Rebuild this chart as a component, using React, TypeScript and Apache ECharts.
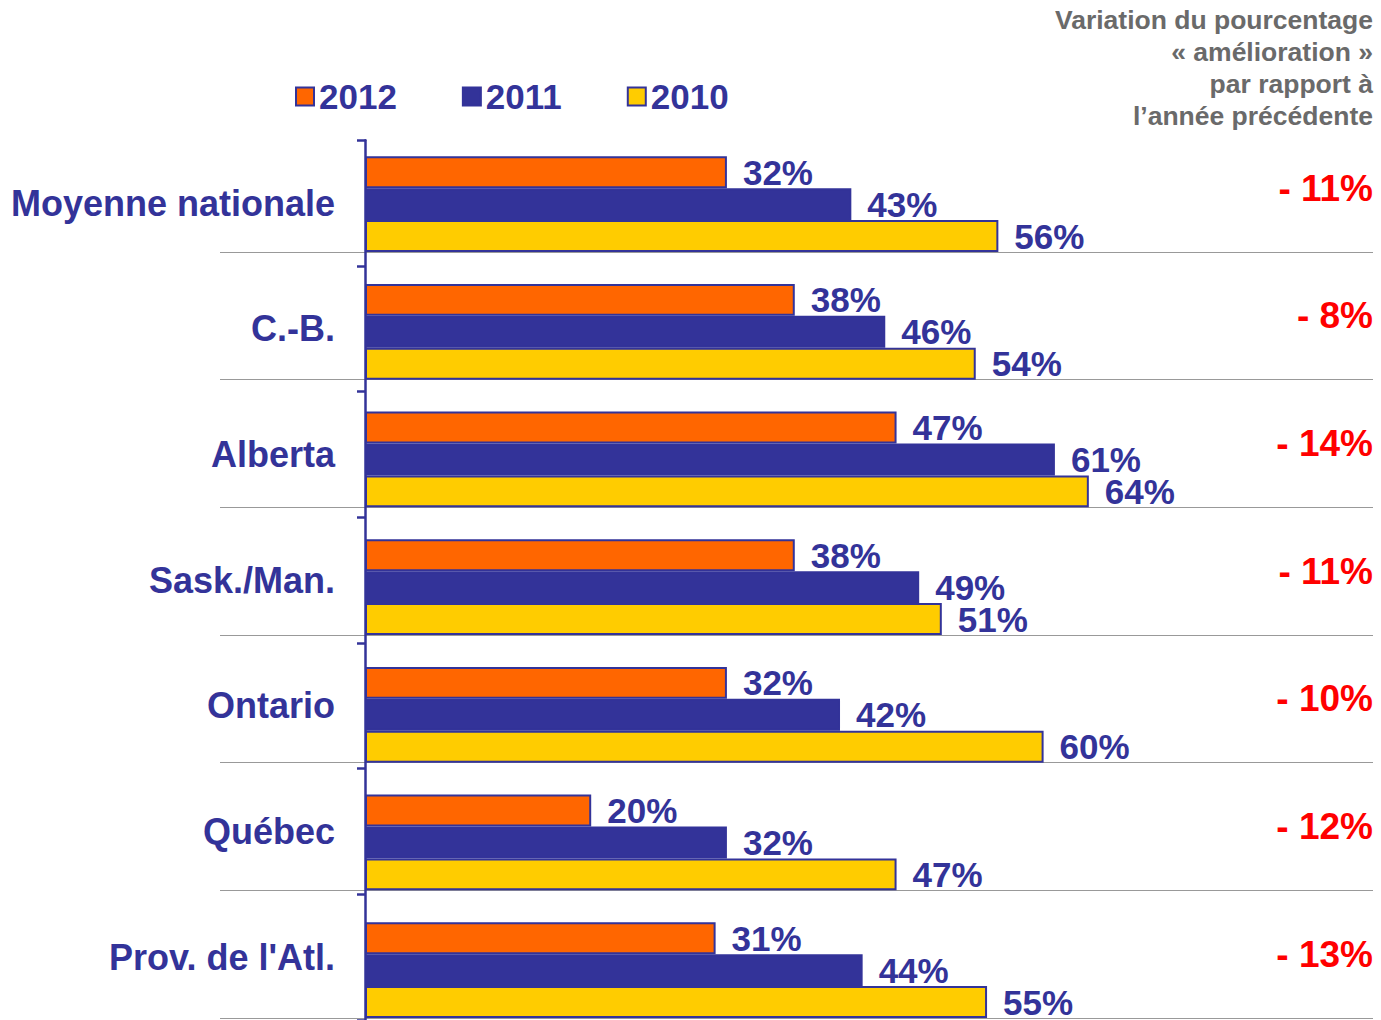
import { useEffect, useRef } from 'react';
import * as echarts from 'echarts';

const regions = ['Moyenne nationale', 'C.-B.', 'Alberta', 'Sask./Man.', 'Ontario', 'Québec', "Prov. de l'Atl."];
const values2012 = [32, 38, 47, 38, 32, 20, 31];
const values2011 = [43, 46, 61, 49, 42, 32, 44];
const values2010 = [56, 54, 64, 51, 60, 47, 55];
const variations = ['- 11%', '- 8%', '- 14%', '- 11%', '- 10%', '- 12%', '- 13%'];
const seriesNames = ['2012', '2011', '2010'];
const headerLines = ['Variation du pourcentage', '« amélioration »', 'par rapport à', 'l’année précédente'];

const FONT = 'Liberation Sans, Arial, Helvetica, sans-serif';
const NAVY = '#333399';
const ORANGE = '#FF6600';
const YELLOW = '#FFCC00';

// layout constants (pixels)
const W = 1381;
const H = 1020;
const AXIS_X = 365;
const GRID_LEFT = 220;
const GRID_RIGHT_X = 1373;
const PX_PER_PCT = 11.31;
const GRID_TOP = 124.3;
const GRID_BOTTOM_Y = 1018;
const GRID_H = GRID_BOTTOM_Y - GRID_TOP;
const HALF_SLOT = GRID_H / regions.length / 4 / 2;

export default function App() {
  const ref = useRef<HTMLDivElement>(null);

  useEffect(() => {
    if (!ref.current) return;
    const chart = echarts.init(ref.current, undefined, { renderer: 'svg' });

    const labelStyle = {
      show: true,
      position: 'right',
      distance: 16,
      formatter: '{c}%',
      color: NAVY,
      fontFamily: FONT,
      fontWeight: 'bold',
      fontSize: 35,
    };

    const colors = [ORANGE, NAVY, YELLOW];
    const vals = [values2012, values2011, values2010];

    chart.setOption({
      animation: false,
      backgroundColor: '#ffffff',
      graphic: headerLines.map((line, i) => ({
        type: 'text',
        right: W - GRID_RIGHT_X,
        top: 6 + i * 32,
        style: {
          text: line,
          fill: '#6a6a6a',
          fontFamily: FONT,
          fontWeight: 'bold',
          fontSize: 26.5,
        },
      })),
      legend: {
        data: seriesNames,
        left: 295,
        top: 79,
        padding: 0,
        itemWidth: 18,
        itemHeight: 18,
        itemGap: 65,
        icon: 'rect',
        selectedMode: false,
        textStyle: { color: NAVY, fontFamily: FONT, fontWeight: 'bold', fontSize: 35 },
      },
      grid: [
        { left: GRID_LEFT, top: GRID_TOP, width: GRID_RIGHT_X - GRID_LEFT, height: GRID_H },
        { left: AXIS_X, top: GRID_TOP + HALF_SLOT, width: 100, height: GRID_H },
      ],
      xAxis: [
        {
          type: 'value',
          gridIndex: 0,
          min: -(AXIS_X - GRID_LEFT) / PX_PER_PCT,
          max: (GRID_RIGHT_X - AXIS_X) / PX_PER_PCT,
          show: false,
          splitLine: { show: false },
        },
        { type: 'value', gridIndex: 1, min: 0, max: 1, show: false },
      ],
      yAxis: [
        {
          type: 'category',
          gridIndex: 0,
          data: regions,
          inverse: true,
          axisLine: { show: false },
          axisTick: { show: false },
          axisLabel: { show: false },
          splitLine: { show: true, showMinLine: false, lineStyle: { color: '#999999', width: 1 } },
        },
        {
          type: 'category',
          gridIndex: 0,
          position: 'right',
          data: regions,
          inverse: true,
          axisLine: { show: false },
          axisTick: { show: false },
          splitLine: { show: false },
          axisLabel: {
            inside: true,
            margin: 0,
            padding: [12, 0, 0, 0],
            formatter: (_v: string, i: number) => variations[i],
            color: '#FF0000',
            fontFamily: FONT,
            fontWeight: 'bold',
            fontSize: 37,
          },
        },
        {
          type: 'category',
          gridIndex: 1,
          data: regions,
          inverse: true,
          axisLine: { show: true, lineStyle: { color: NAVY, width: 2.5 } },
          axisTick: { show: true, length: 8, lineStyle: { color: NAVY, width: 2.5 } },
          splitLine: { show: false },
          axisLabel: {
            margin: 30,
            color: NAVY,
            fontFamily: FONT,
            fontWeight: 'bold',
            fontSize: 36,
          },
        },
      ],
      series: [
        {
          name: 'gap',
          type: 'bar',
          xAxisIndex: 0,
          yAxisIndex: 0,
          data: [],
          barGap: '0%',
          barCategoryGap: '0%',
        },
        ...seriesNames.map((name, k) => ({
          name,
          type: 'bar',
          xAxisIndex: 0,
          yAxisIndex: 0,
          data: vals[k],
          barGap: '0%',
          barCategoryGap: '0%',
          itemStyle: { color: colors[k], borderColor: NAVY, borderWidth: 2 },
          label: labelStyle,
        })),
      ],
    });

    return () => chart.dispose();
  }, []);

  return (
    <div
      ref={ref}
      style={{ position: 'fixed', left: 0, top: 0, width: W, height: H, background: '#fff' }}
    />
  );
}
